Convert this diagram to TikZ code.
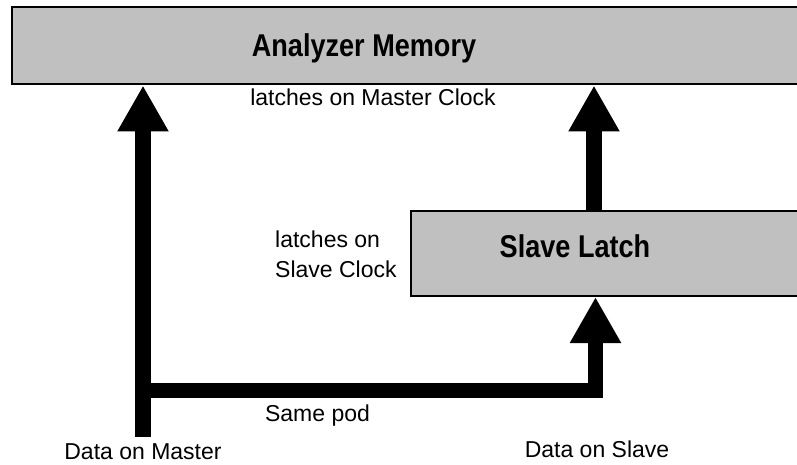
\documentclass[tikz,border=0pt]{standalone}
\usepackage{fontspec}
\setmainfont{Liberation Sans}
\usetikzlibrary{arrows.meta}
\definecolor{boxgray}{HTML}{C0C0C0}
\tikzset{
  blockbox/.style={draw=black, line width=2pt, fill=boxgray, rectangle, inner sep=0pt},
  boldlabel/.style={font=\fontsize{31.5}{36}\selectfont\bfseries, inner sep=0pt, anchor=base},
  plainlabel/.style={font=\fontsize{23}{30}\selectfont, inner sep=0pt, anchor=base},
  bus/.style={line width=15.5pt, line join=miter, line cap=butt},
  busarrow/.style={bus, -{Triangle[length=46pt, width=48pt]}}
}
\begin{document}
\begin{tikzpicture}[x=1pt, y=-1pt]
\useasboundingbox (0,0) rectangle (797,465);
\clip (0,0) rectangle (797,465);
% boxes
\node[blockbox, minimum width=803pt, minimum height=77.5pt] (mem) at (413.5,45.75) {};
\node[blockbox, minimum width=404.5pt, minimum height=85pt] (sl) at (612.75,253.5) {};
\node[boldlabel] (memtext) at (364,57) {\scalebox{0.86}[1]{Analyzer Memory}};
\node[boldlabel] (sltext) at (575,257) {\scalebox{0.86}[1]{Slave Latch}};
% coordinates
\coordinate (dm) at (143,437);
\coordinate (jn) at (143,390.5);
\coordinate (cr) at (595.5,390.5);
\coordinate (rx) at (594,0);
% connectors
\draw[busarrow] (dm) -- (dm |- mem.south);
\draw[busarrow] (jn) -- (cr) -- (cr |- sl.south);
\draw[busarrow] (sl.north -| rx) -- (mem.south -| rx);
% labels
\node[plainlabel] (lmc) at (373,106) {latches on Master Clock};
\node[plainlabel, anchor=base west, align=left] (lsc) at (275,277) {latches on\\Slave Clock};
\node[plainlabel] (spod) at (317.5,421) {Same pod};
\node[plainlabel] (dmaster) at (143,459) {Data on Master};
\node[plainlabel] (dslave) at (597,457) {Data on Slave};
\end{tikzpicture}
\end{document}
